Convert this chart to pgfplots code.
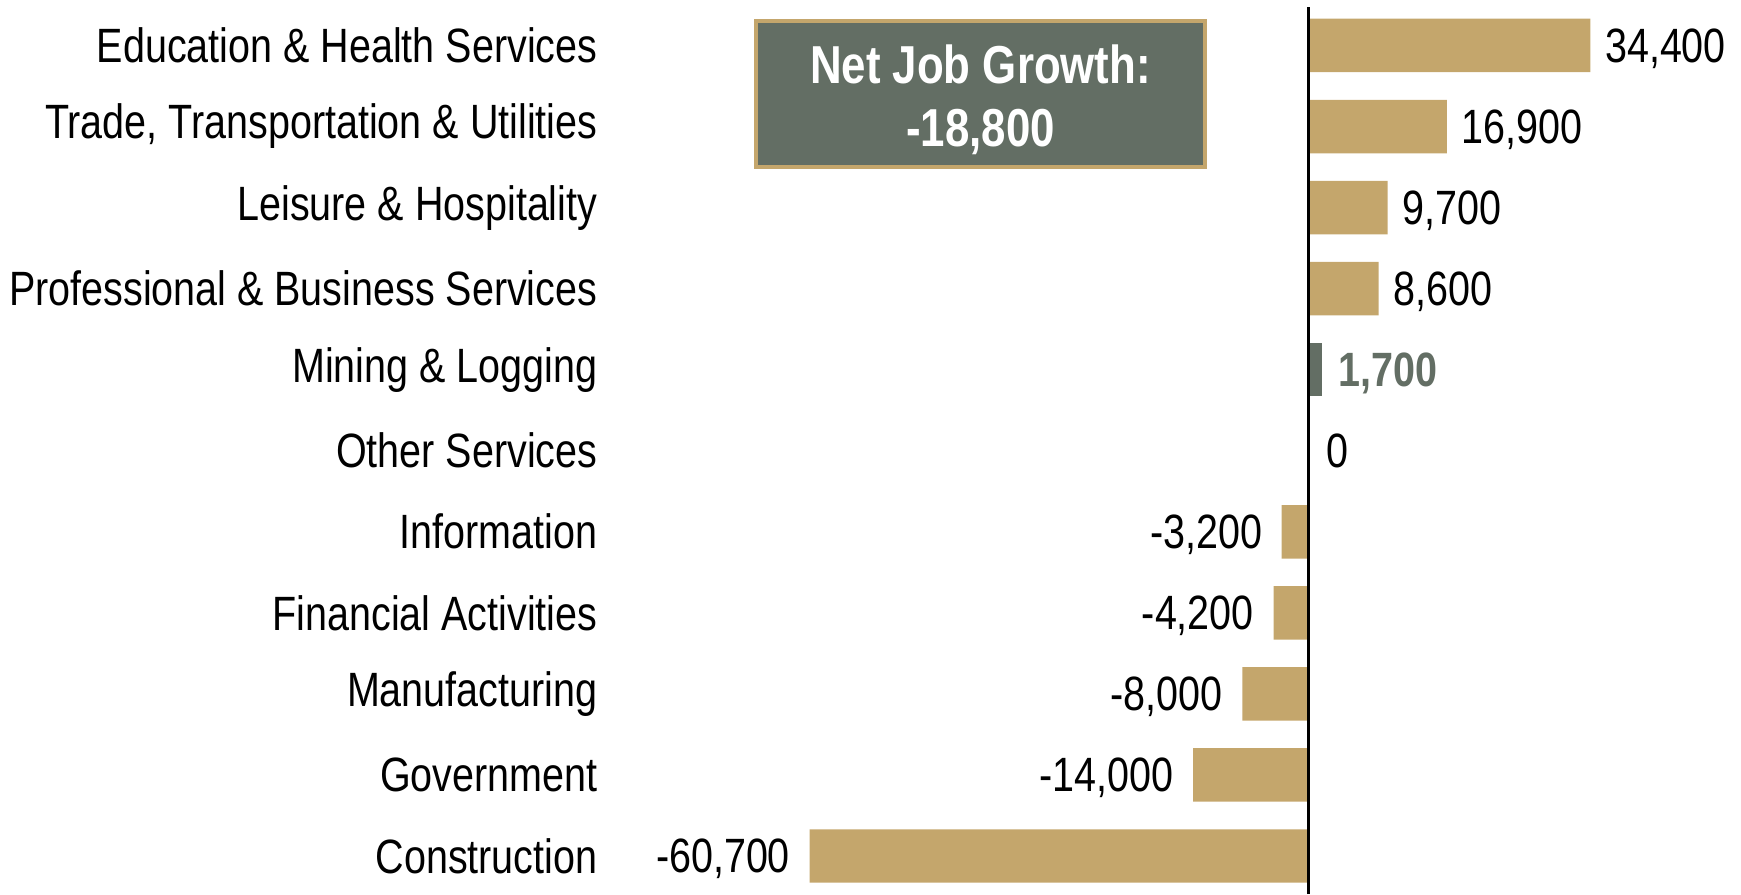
\documentclass[border=0pt]{standalone}
\usepackage{pgfplots}
\pgfplotsset{compat=1.18}
\usepackage{pgfplotstable}
\usepackage{fontspec}
\setmainfont{Liberation Sans}[FakeStretch=0.82]
\definecolor{tan}{HTML}{C4A66C}
\definecolor{boxgray}{HTML}{636E64}
\pgfplotstableread{
i v lab
10 34400 34,400
9 16900 16,900
8 9700 9,700
7 8600 8,600
}\pos
\pgfplotstableread{
i v lab
4 -3200 -3,200
3 -4200 -4,200
2 -8000 -8,000
1 -14000 -14,000
0 -60700 -60,700
}\negt
\begin{document}
\begin{tikzpicture}
\begin{axis}[
  at={(60.5mm,0mm)}, anchor=south west,
  scale only axis, width=113.6mm, height=88.8mm,
  xmin=-85627, xmax=52741, ymin=-0.469, ymax=10.487,
  xbar, bar shift=0pt, bar width=0.66,
  axis line style={draw=none},
  xtick=\empty, major tick length=0pt,
  ytick={0,...,10},
  yticklabels={Construction,Government,Manufacturing,Financial Activities,Information,Other Services,Mining \& Logging,Professional \& Business Services,Leisure \& Hospitality,{Trade, Transportation \& Utilities},Education \& Health Services},
  yticklabel style={font=\fontsize{13.7pt}{16pt}\selectfont, anchor=east, inner sep=0pt, xshift=-0.7mm, yshift=0mm},
  clip=false,
  point meta=explicit symbolic,
  every node near coord/.append style={font=\fontsize{13.7pt}{16pt}\selectfont, inner sep=0pt, text depth=0pt},
]
\addplot[fill=tan, draw=none, nodes near coords, nodes near coords style={anchor=west, xshift=1.4mm}] table[x=v, y=i, meta=lab] {\pos};
\addplot[fill=tan, draw=none, nodes near coords, nodes near coords style={anchor=east, xshift=-1.9mm}] table[x=v, y=i, meta=lab] {\negt};
\addplot[fill=boxgray, draw=none, nodes near coords, nodes near coords style={anchor=west, xshift=1.6mm, text=boxgray, font=\fontsize{13.7pt}{16pt}\selectfont\bfseries}] coordinates {(1700,6) [1{,}700]};
\addplot[fill=none, draw=none, nodes near coords, nodes near coords style={anchor=west, xshift=1.8mm}] coordinates {(0,5) [0]};
\draw[line width=0.3mm, black] (axis cs:0,-0.469) -- (axis cs:0,10.48);
\node[fill=boxgray, draw=tan, line width=0.4mm, minimum width=44.9mm, minimum height=14.6mm, inner sep=0pt] at (axis cs:-39890,9.40) {};
\node[align=center, text=white, font=\fontsize{15.2pt}{18pt}\selectfont\bfseries, inner sep=0pt] at (axis cs:-39890,9.33) {Net Job Growth:\\-18,800};
\end{axis}
\pgfresetboundingbox
\path[use as bounding box] (0,0) rectangle (174.1mm,89.4mm);
\end{tikzpicture}
\end{document}
